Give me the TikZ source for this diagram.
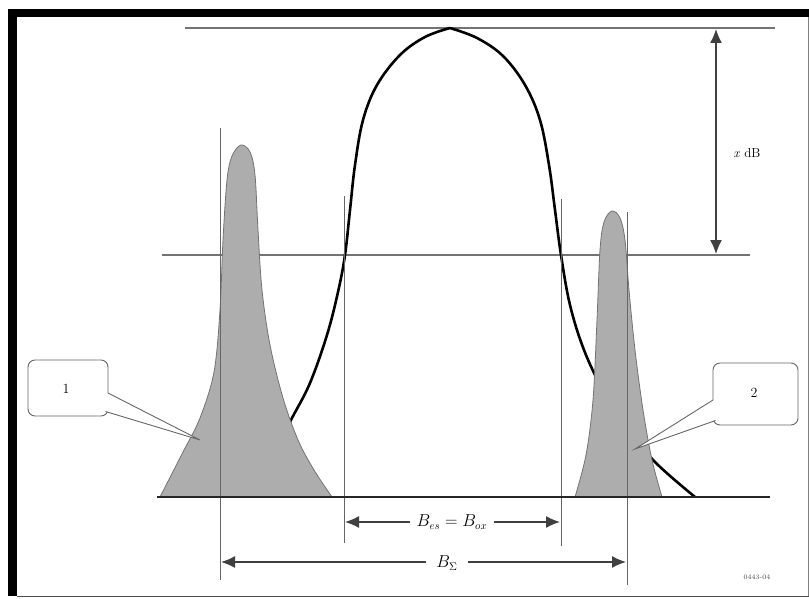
\documentclass[tikz,border=0pt]{standalone}
\usetikzlibrary{arrows.meta}
\begin{document}
\begin{tikzpicture}[x=1pt,y=-1pt,
  guide/.style={draw=black!55,line width=1.1pt},
  vguide/.style={draw=black!60,line width=1pt},
  peakfill/.style={fill=black!32,draw=black!55,line width=0.8pt},
  dimarrow/.style={draw=black!75,line width=1.3pt,{Latex[length=14pt,width=12pt]}-{Latex[length=14pt,width=12pt]}},
  lbl/.style={font=\fontsize{16}{18}\selectfont,fill=white,inner sep=2pt},
  callout/.style={draw=black!60,fill=white,line width=0.9pt},
  calltext/.style={font=\fontsize{14}{16}\selectfont}]
\useasboundingbox (0,0) rectangle (809,599);
% frame
\fill[black] (8,9) rectangle (809,17);
\fill[black] (8,9) rectangle (17,596);
\draw[black!70,line width=1pt] (17,596) -- (809,596);
\draw[black!50,line width=0.8pt] (808,17) -- (808,596);
% horizontal guides
\coordinate (tl) at (185,28); \coordinate (tr) at (775,28);
\coordinate (ml) at (162,255); \coordinate (mr) at (750,255);
\draw[guide] (tl) -- (tr);
\draw[guide] (ml) -- (mr);
% main curve
\draw[line width=2.6pt,line join=round] plot[smooth,tension=0.6] coordinates {(278,445) (292,418) (310,383) (327,335) (338,292) (345,255) (350,210) (355,165) (363,120) (377,85) (400,55) (425,37) (450,28)};
\draw[line width=2.6pt,line join=round] plot[smooth,tension=0.6] coordinates {(450,28) (477,38) (503,56) (525,85) (540,120) (549,165) (555,210) (561,255) (570,305) (584,350) (603,390) (628,428) (655,462) (695,497)};
% left interferer
\path[peakfill] plot[smooth,tension=0.55] coordinates {(160,497) (183,452) (200,418) (214,372) (220,310) (223,240) (227,180) (232,156) (241,145) (250,152) (255,175) (258,230) (262,290) (270,345) (283,398) (298,440) (314,470) (332,497)} -- cycle;
% right interferer
\path[peakfill] plot[smooth,tension=0.55] coordinates {(575,497) (586,455) (593,400) (597,320) (600,250) (604,222) (612,211) (620,218) (625,240) (629,290) (635,350) (643,410) (652,460) (662,497)} -- cycle;
% vertical guides
\draw[vguide] (220,128) -- (220,580);
\draw[vguide] (344,196) -- (344,543);
\draw[vguide] (561,199) -- (561,546);
\draw[vguide] (627,212) -- (627,585);
% baseline
\coordinate (bl) at (157,497); \coordinate (br) at (770,497);
\draw[black!85,line width=2.2pt] (bl) -- (br);
% x dB arrow
\coordinate (xa) at (716,29); \coordinate (xb) at (716,254);
\draw[dimarrow] (xa) -- (xb);
\node[font=\fontsize{13}{15}\selectfont] (xdb) at (747,153) {\textit{x} dB};
% B arrows
\coordinate (b1a) at (345,522); \coordinate (b1b) at (560,522);
\draw[dimarrow] (b1a) -- (b1b);
\node[lbl,inner xsep=7pt] (b1) at (452,522) {$B_{es}=B_{ox}$};
\coordinate (b2a) at (221,562); \coordinate (b2b) at (626,562);
\draw[dimarrow] (b2a) -- (b2b);
\node[lbl,inner xsep=10pt] (b2) at (447,563) {$B_{\Sigma}$};
% callout 1
\draw[callout,rounded corners=7pt] (28,360) rectangle (108,416);
\coordinate (p1) at (200,440);
\fill[white] (107,393) -- (p1) -- (105,411) -- (102,405) -- (102,393) -- cycle;
\draw[black!60,line width=0.9pt] (108,393) -- (p1) -- (105.5,411.5);
\node[calltext] (c1) at (66,389) {1};
% callout 2
\draw[callout,rounded corners=7pt] (713,363) rectangle (798,425);
\coordinate (p2) at (635,449);
\fill[white] (714,400) -- (p2) -- (715.5,420) -- (719,415) -- (719,400) -- cycle;
\draw[black!60,line width=0.9pt] (713,400) -- (p2) -- (715.5,420.5);
\node[calltext] (c2) at (754,393) {2};
% figure number
\node[font=\fontsize{7}{8}\selectfont,text=black!70] (fig) at (757,577) {0443-04};
\end{tikzpicture}
\end{document}
